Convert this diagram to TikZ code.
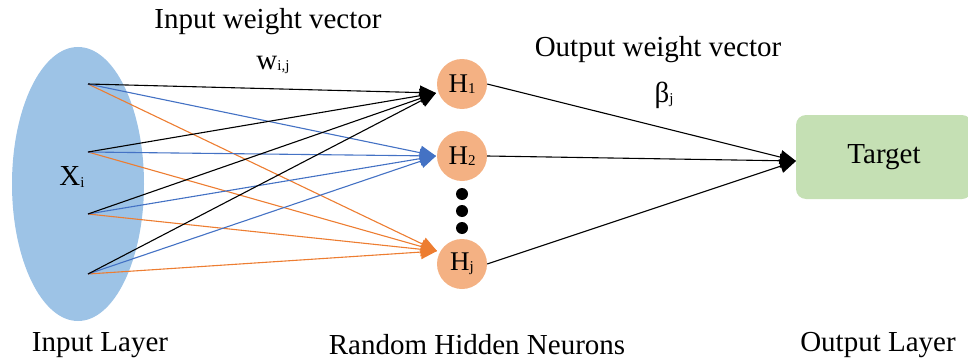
\documentclass[tikz,border=0pt]{standalone}
\usepackage{fontspec}
\setmainfont{Liberation Serif}
\usepackage{tikz}
\usetikzlibrary{shapes,positioning,calc,arrows.meta}
\usepackage{xcolor}
\definecolor{inblue}{RGB}{157,195,230}
\definecolor{hidorange}{RGB}{244,177,131}
\definecolor{tgtgreen}{RGB}{197,224,180}
\definecolor{wblue}{RGB}{68,114,196}
\definecolor{worange}{RGB}{237,125,49}
% small lowered subscript as in the figure
\newcommand{\lsub}[1]{\raisebox{-1.5pt}{\fontsize{15}{16}\selectfont #1}}

\begin{document}
\begin{tikzpicture}[
    x=1pt, y=-1pt,
    txt/.style={font=\fontsize{29}{32}\selectfont, inner sep=0pt},
    neuron/.style={circle, fill=hidorange, minimum size=50pt, inner sep=0pt, font=\fontsize{27}{30}\selectfont},
    vdot/.style={circle, fill=black, minimum size=12pt, inner sep=0pt},
    arrow/.style={-{Triangle[length=16pt, width=14pt]}, line width=1.1pt},
]
\clip (0,0) rectangle (968,361);

% ========== INPUT LAYER (LEFT) ==========
\node[ellipse, fill=inblue, minimum width=132pt, minimum height=274pt] (inlayer) at (78,184) {};
\node[txt] (xi) at (72,177) {X\lsub{i}};
\coordinate (x1) at (88,84);
\coordinate (x2) at (88,152);
\coordinate (x3) at (88,214);
\coordinate (x4) at (88,274);

% arrow tips in front of the hidden neurons
\coordinate (t1) at (436,93);
\coordinate (t2) at (436,156);
\coordinate (tj) at (437,251);

% ========== INPUT WEIGHTS ==========
\draw[arrow, worange] (x1) -- (tj);
\draw[arrow, worange] (x2) -- (tj);
\draw[arrow, worange] (x3) -- (tj);
\draw[arrow, worange] (x4) -- (tj);
\draw[arrow, wblue] (x1) -- (t2);
\draw[arrow, wblue] (x2) -- (t2);
\draw[arrow, wblue] (x3) -- (t2);
\draw[arrow, wblue] (x4) -- (t2);
\draw[arrow, black] (x1) -- (t1);
\draw[arrow, black] (x2) -- (t1);
\draw[arrow, black] (x3) -- (t1);
\draw[arrow, black] (x4) -- (t1);

% ========== HIDDEN NEURONS (MIDDLE) ==========
\node[neuron] (h1) at (462,84) {H\lsub{1}};
\node[neuron] (h2) at (462,156) {H\lsub{2}};
\node[vdot] (d1) at (462,194) {};
\node[vdot] (d2) at (462,211) {};
\node[vdot] (d3) at (462,228) {};
\node[neuron] (hj) at (462,264) {H\lsub{j}};

% ========== OUTPUT LAYER (RIGHT) ==========
\node[rectangle, rounded corners=10pt, fill=tgtgreen, minimum width=176pt, minimum height=84pt, txt] (target) at (884,157) {Target};
\coordinate (tt) at (796,161);

\draw[arrow] (h1.east) -- (tt);
\draw[arrow] (h2.east) -- (tt);
\draw[arrow] (hj.east) -- (tt);

% ========== LABELS ==========
\node[txt] (inw) at (268,22) {Input weight vector};
\node[txt] (wij) at (273,65) {w\lsub{i,j}};
\node[txt] (outw) at (658,50) {Output weight vector};
\node[txt] (beta) at (664,95) {β\lsub{j}};
\node[txt] (inlab) at (100,345) {Input Layer};
\node[txt] (hidlab) at (477,345) {Random Hidden Neurons};
\node[txt] (outlab) at (878,345) {Output Layer};

\end{tikzpicture}
\end{document}
